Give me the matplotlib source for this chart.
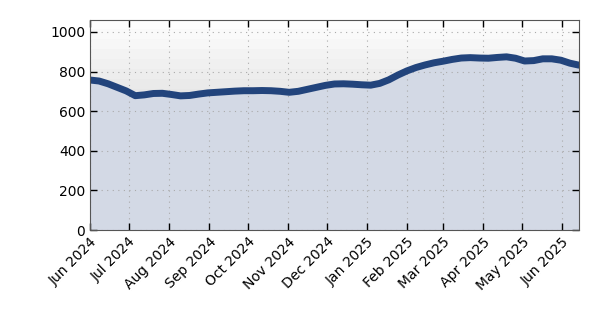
import numpy as np
import pandas as pd
import matplotlib
matplotlib.use("Agg")
import matplotlib.pyplot as plt
import matplotlib.dates as mdates

start_date = "2024-06-01"
values = [757, 752, 738, 720, 702, 678, 682, 689, 690, 684, 677, 679, 686, 692,
          695, 698, 701, 703, 703, 704, 703, 700, 695, 700, 710, 720, 730, 737,
          738, 736, 733, 731, 740, 758, 782, 803, 820, 833, 844, 852, 861, 868,
          870, 868, 867, 871, 874, 867, 853, 855, 864, 864, 857, 842, 832]
dates = pd.date_range(start_date, periods=len(values), freq="7D")
yticks = [0, 200, 400, 600, 800, 1000]

fig = plt.figure(figsize=(5.94, 3.25), dpi=100)
ax = fig.add_axes([0.1515, 0.2923, 0.8232, 0.6462])

# banded gradient background
grad = np.linspace(0.74, 0.99, 21).reshape(-1, 1)
ax.imshow(grad, extent=[0, 1, 0, 1], transform=ax.transAxes, cmap="gray",
          vmin=0, vmax=1, aspect="auto", origin="lower", zorder=0,
          interpolation="nearest")

ax.fill_between(dates, values, 0, color="#d3d9e5", zorder=1, linewidth=0)
ax.plot(dates, values, color="#222222", linewidth=1.0, zorder=2)
ax.plot(dates, values, color="#22447c", linewidth=5, zorder=3,
        solid_capstyle="round", solid_joinstyle="round")

ax.set_xlim(dates[0], dates[-1])
ax.set_ylim(0, 1060)
ax.set_yticks(yticks)
ax.xaxis.set_major_locator(mdates.MonthLocator())
ax.xaxis.set_major_formatter(mdates.DateFormatter("%b %Y"))
plt.setp(ax.get_xticklabels(), rotation=45, ha="right", rotation_mode="anchor")

ax.tick_params(direction="in", length=5, width=1, top=True, right=True,
               labelsize=10, colors="black")
ax.grid(True, linestyle=(0, (1, 4)), color="#aaaaaa", linewidth=0.8, zorder=1.5)
ax.set_axisbelow(False)
for s in ax.spines.values():
    s.set_color("#555555")
    s.set_zorder(5)

fig.savefig("out.png", dpi=100)
